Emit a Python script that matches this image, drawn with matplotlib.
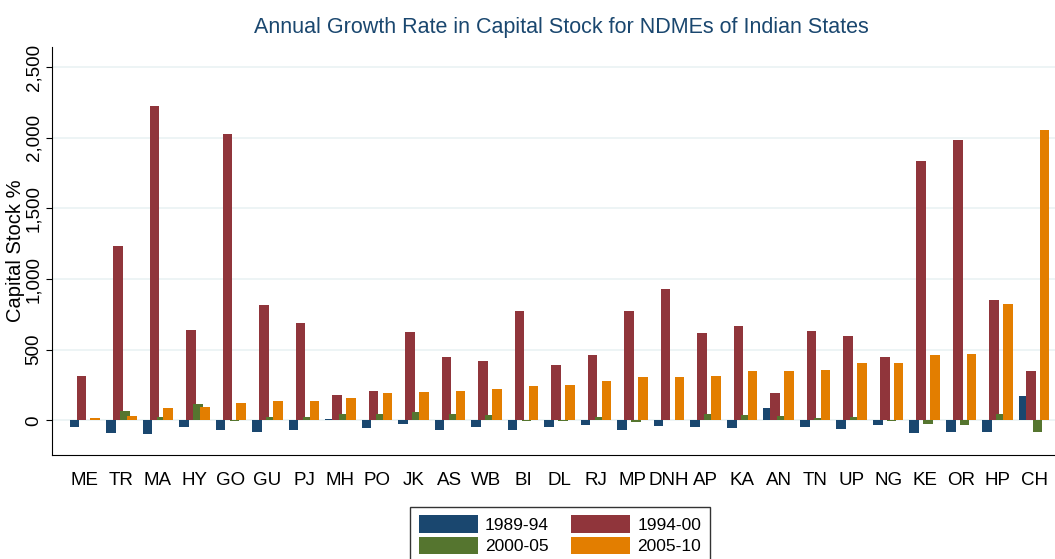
import numpy as np
import matplotlib
matplotlib.use("Agg")
import matplotlib.pyplot as plt
from matplotlib.ticker import FuncFormatter

plt.rcParams["font.family"] = ["Liberation Sans", "DejaVu Sans"]

states = ["ME", "TR", "MA", "HY", "GO", "GU", "PJ", "MH", "PO", "JK", "AS", "WB", "BI", "DL",
          "RJ", "MP", "DNH", "AP", "KA", "AN", "TN", "UP", "NG", "KE", "OR", "HP", "CH"]
periods = ["1989-94", "1994-00", "2000-05", "2005-10"]

g1989_94 = [-47, -89, -96, -45, -66, -82, -66, 10, -54, -23, -71, -50, -71, -50,
            -33, -66, -42, -50, -54, 88, -50, -59, -30, -89, -80, -82, 170]
g1994_00 = [311, 1231, 2226, 642, 2026, 814, 689, 182, 210, 623, 446, 417, 771, 389,
            460, 771, 932, 618, 670, 194, 635, 594, 448, 1832, 1986, 854, 347]
g2000_05 = [0, 64, 24, 116, -5, 24, 24, 45, 47, 59, 47, 35, -5, -5,
            24, -10, 0, 45, 38, 31, 14, 26, -3, -23, -30, 45, -82]
g2005_10 = [17, 28, 88, 95, 125, 137, 139, 160, 194, 201, 210, 222, 241, 253,
            276, 304, 309, 316, 347, 347, 354, 406, 406, 465, 472, 823, 2056]

colors = ["#1a476f", "#90353b", "#55752f", "#e37e00"]
series = [g1989_94, g1994_00, g2000_05, g2005_10]

fig = plt.figure(figsize=(10.55, 5.59), dpi=100)
ax = fig.add_axes([0.0493, 0.186, 0.9507, 0.730])

x = np.arange(len(states))
offsets = [-0.285, -0.095, 0.095, 0.285]
handles = []
for vals, off, col, lab in zip(series, offsets, colors, periods):
    handles.append(ax.bar(x + off, vals, width=0.265, color=col, label=lab, zorder=3))

ax.set_xlim(-0.9, 26.57)
ax.set_ylim(-245, 2642)
ax.set_yticks([0, 500, 1000, 1500, 2000, 2500])
ax.yaxis.set_major_formatter(FuncFormatter(lambda v, p: f"{int(v):,}"))
ax.set_xticks(x)
ax.set_xticklabels(states, fontsize=13.5)
ax.tick_params(axis="x", length=0, pad=12)
ax.tick_params(axis="y", labelrotation=90, labelsize=13.5, length=4, pad=3)
for t in ax.get_yticklabels():
    t.set_va("center")
ax.grid(axis="y", color="#eaf2f3", linewidth=1.2, zorder=0)
for s in ["top", "right"]:
    ax.spines[s].set_visible(False)
ax.spines["left"].set_color("black")
ax.spines["bottom"].set_color("black")
ax.set_ylabel("Capital Stock %", fontsize=14.5, labelpad=0)

fig.text(0.532, 0.95, "Annual Growth Rate in Capital Stock for NDMEs of Indian States",
         ha="center", va="center", fontsize=15.5, color="#1a476f")

# row-major legend order like the original
order = [0, 2, 1, 3]
ax.legend([handles[i] for i in order], [periods[i] for i in order],
          loc="upper center", bbox_to_anchor=(560 / 1055, 1 - 498 / 559),
          bbox_transform=fig.transFigure, ncol=2, frameon=True, fancybox=False,
          edgecolor="black", fontsize=12.5, handlelength=3.4, handleheight=1.2,
          columnspacing=1.3, borderpad=0.5, labelspacing=0.2, handletextpad=0.4)

fig.savefig("out.png", dpi=100)
